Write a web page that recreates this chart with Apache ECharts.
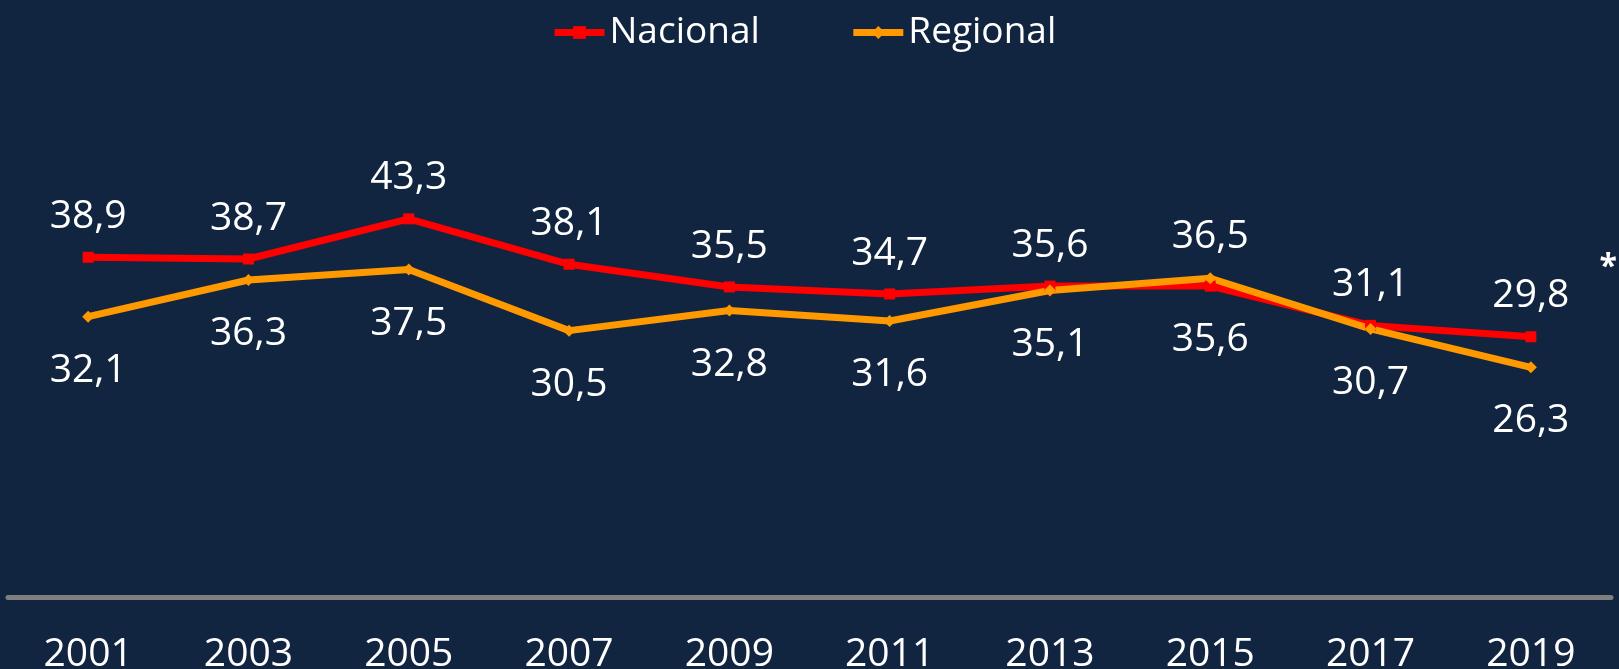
<!DOCTYPE html>
<html>
<head>
<meta charset="utf-8">
<script src="https://cdn.jsdelivr.net/npm/echarts@6/dist/echarts.min.js"></script>
<style>
  html, body { margin: 0; padding: 0; background: #122540; }
  #chart { width: 1619px; height: 669px; }
</style>
</head>
<body>
<div id="chart"></div>
<script>
var years = ['2001', '2003', '2005', '2007', '2009', '2011', '2013', '2015', '2017', '2019'];
var nacional = [38.9, 38.7, 43.3, 38.1, 35.5, 34.7, 35.6, 35.6, 31.1, 29.8];
var regional = [32.1, 36.3, 37.5, 30.5, 32.8, 31.6, 35.1, 36.5, 30.7, 26.3];

var FONT = '"Open Sans", sans-serif';

function fmt(v) {
    return v.toFixed(1).replace('.', ',');
}

// label goes above the point of whichever series is higher at that year
function withLabels(values, other) {
    var out = [];
    for (var i = 0; i < values.length; i++) {
        var up = values[i] >= other[i];
        out.push({
            value: values[i],
            label: { position: up ? 'top' : 'bottom', distance: up ? 15 : 28 }
        });
    }
    return out;
}

var labelStyle = {
    show: true,
    color: '#ffffff',
    fontFamily: FONT,
    fontSize: 39,
    lineHeight: 40,
    formatter: function (p) { return fmt(p.value); }
};

var chart = echarts.init(document.getElementById('chart'));

chart.setOption({
    backgroundColor: '#122540',
    animation: false,
    legend: {
        top: 9,
        left: 546,
        itemWidth: 50,
        itemHeight: 16,
        itemGap: 90,
        lineStyle: { width: 7 },
        textStyle: { color: '#ffffff', fontFamily: FONT, fontSize: 37 },
        data: ['Nacional', 'Regional']
    },
    grid: { left: 8, right: 8, top: 73, bottom: 72, outerBoundsMode: 'none' },
    xAxis: {
        type: 'category',
        data: years,
        boundaryGap: true,
        axisLine: { lineStyle: { color: '#7f7f7f', width: 5 } },
        axisTick: { show: false },
        axisLabel: { color: '#ffffff', fontFamily: FONT, fontSize: 39, margin: 38 }
    },
    yAxis: {
        type: 'value',
        min: 0,
        max: 60,
        show: false,
        splitLine: { show: false }
    },
    graphic: [{
        type: 'text',
        right: 2,
        top: 252,
        style: { text: '*', fill: '#ffffff', font: 'bold 32px "Open Sans", sans-serif' }
    }],
    series: [
        {
            name: 'Nacional',
            type: 'line',
            data: withLabels(nacional, regional),
            color: '#ff0000',
            lineStyle: { width: 7 },
            symbol: 'rect',
            symbolSize: 11,
            label: labelStyle
        },
        {
            name: 'Regional',
            type: 'line',
            data: withLabels(regional, nacional),
            color: '#ff9900',
            lineStyle: { width: 7 },
            symbol: 'diamond',
            symbolSize: 12,
            label: labelStyle
        }
    ]
});
</script>
</body>
</html>
